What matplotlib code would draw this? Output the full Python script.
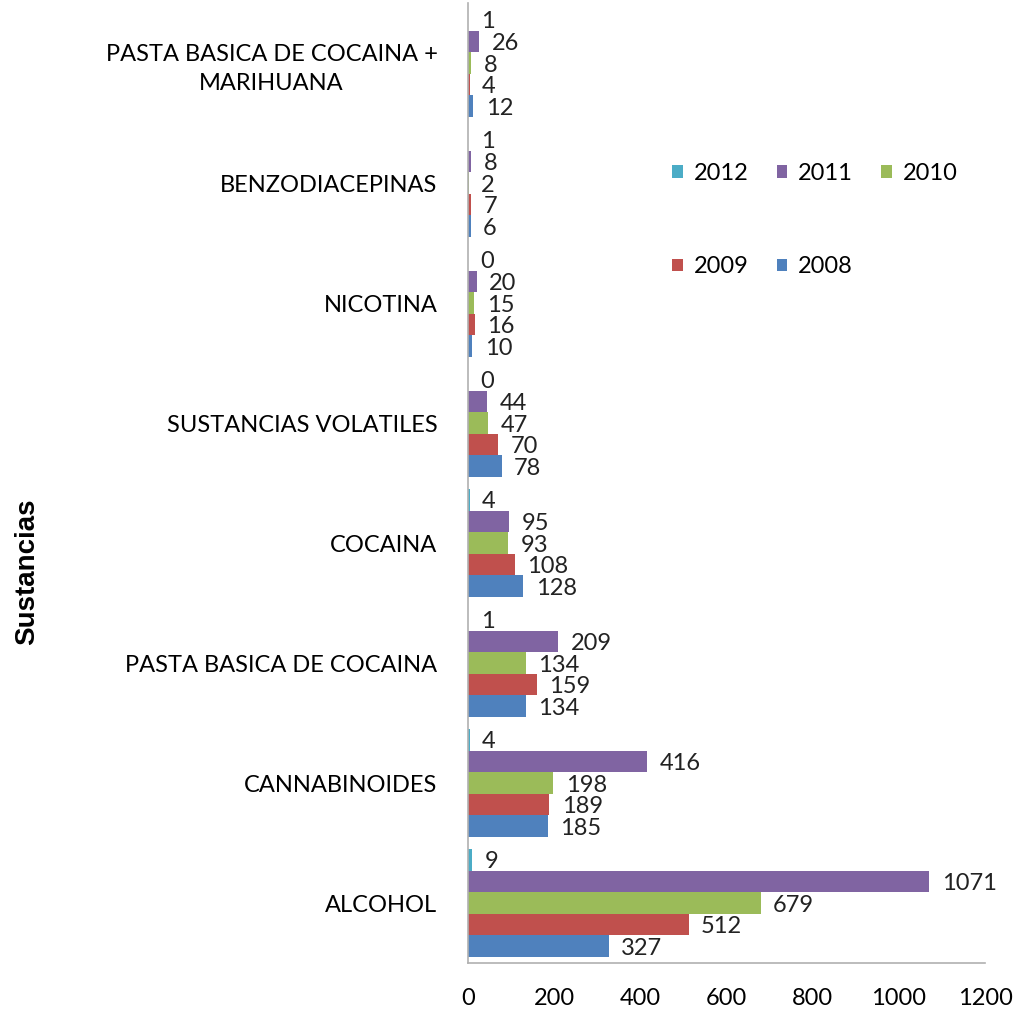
import matplotlib
matplotlib.use("Agg")
import matplotlib.pyplot as plt
import numpy as np

categories = ["ALCOHOL", "CANNABINOIDES", "PASTA BASICA DE COCAINA", "COCAINA",
              "SUSTANCIAS VOLATILES", "NICOTINA", "BENZODIACEPINAS",
              "PASTA BASICA DE COCAINA +\nMARIHUANA"]
years = ["2008", "2009", "2010", "2011", "2012"]
v2008 = [327, 185, 134, 128, 78, 10, 6, 12]
v2009 = [512, 189, 159, 108, 70, 16, 7, 4]
v2010 = [679, 198, 134, 93, 47, 15, 2, 8]
v2011 = [1071, 416, 209, 95, 44, 20, 8, 26]
v2012 = [9, 4, 1, 4, 0, 0, 1, 1]
series = [v2008, v2009, v2010, v2011, v2012]
colors = ["#4F81BD", "#C0504D", "#9BBB59", "#8064A2", "#4BACC6"]
xticks = [0, 200, 400, 600, 800, 1000, 1200]

W, H = 1015, 1011
fig = plt.figure(figsize=(W / 100, H / 100), dpi=100)
ax = fig.add_axes([468 / W, (H - 963) / H, (985 - 468) / W, 960 / H])

font = "Lato"
fs = 17
y = np.arange(len(categories))
h = 0.18
handles = {}
for i, (yr, vals, c) in enumerate(zip(years, series, colors)):
    off = (i - 2) * h
    b = ax.barh(y + off, vals, height=h, color=c, label=yr)
    handles[yr] = b
    for yy, v in zip(y + off, vals):
        ax.annotate(str(v), (v, yy), xytext=(9, -1.5), textcoords="offset points",
                    va="center", ha="left", fontsize=fs, family=font, color="#222222")

ax.set_xlim(0, 1200)
ax.set_ylim(-0.5, len(categories) - 0.5)
ax.set_yticks(y)
ax.set_yticklabels(categories, fontsize=fs, family=font, ha="right",
                   multialignment="center", linespacing=1.5)
ax.tick_params(axis="y", length=0, pad=22)
ax.set_xticks(xticks)
ax.set_xticklabels([str(t) for t in xticks], fontsize=fs, family=font)
ax.tick_params(axis="x", length=0, pad=18)
for s in ["top", "right"]:
    ax.spines[s].set_visible(False)
for s in ["left", "bottom"]:
    ax.spines[s].set_color("#B0B0B0")
    ax.spines[s].set_linewidth(1.2)

fig.text(27 / W, 1 - 572 / H, "Sustancias", rotation=90, fontsize=20,
         fontweight="bold", family="Liberation Sans", ha="center", va="center")

order = ["2012", "2009", "2011", "2008", "2010"]
leg = ax.legend([handles[k] for k in order], order, ncol=3, frameon=False,
                loc="upper left", bbox_to_anchor=((651 - 468) / (985 - 468), (963 - 142) / 960),
                prop={"family": font, "size": fs}, labelspacing=3.05,
                handlelength=0.45, handleheight=0.45, handletextpad=0.45, columnspacing=1.2)

fig.savefig("out.png", dpi=100)
